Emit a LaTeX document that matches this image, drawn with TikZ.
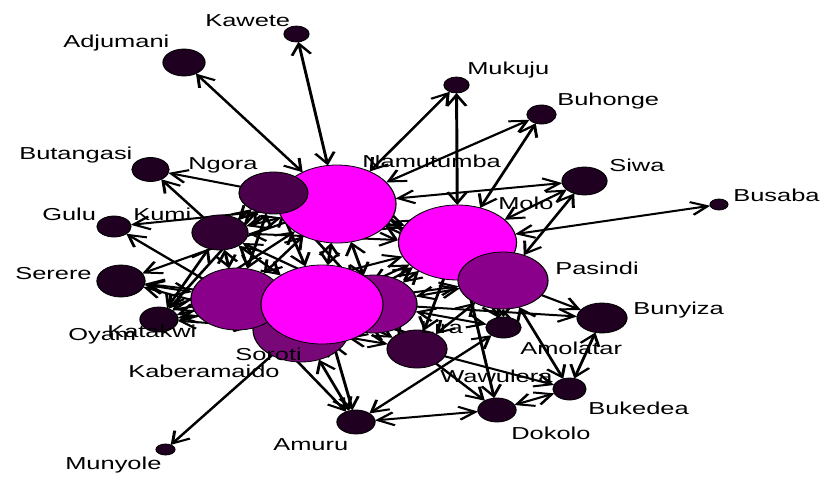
\documentclass[tikz,border=0pt]{standalone}
\usepackage{fontspec}
\setmainfont{Liberation Sans}
\usetikzlibrary{arrows.meta,shapes.geometric}
\definecolor{hub}{HTML}{FF00FF}
\definecolor{mid}{HTML}{8A008A}
\definecolor{sor}{HTML}{780878}
\definecolor{ngo}{HTML}{4A004A}
\definecolor{kum}{HTML}{330033}
\definecolor{lir}{HTML}{3C003C}
\definecolor{low}{HTML}{200020}

% all vertices; #1 lets the first pass place them invisibly so edges can refer to them
\newcommand\vertexset[1]{%
 \node[vtx,fill=hub,minimum width=80.3pt,minimum height=78pt,#1] (namutumba) at (337,204) {};
 \node[vtx,fill=ngo,minimum width=46.9pt,minimum height=42pt,#1] (ngora) at (273.5,193) {};
 \node[vtx,fill=hub,minimum width=80.3pt,minimum height=75pt,#1] (molo) at (457.5,242.5) {};
 \node[vtx,fill=mid,minimum width=61.2pt,minimum height=57pt,#1] (pasindi) at (503,280.5) {};
 \node[vtx,fill=sor,minimum width=65.3pt,minimum height=65pt,#1] (soroti) at (301,329.5) {};
 \node[vtx,fill=mid,minimum width=62.6pt,minimum height=62pt,#1] (oyam) at (237,299) {};
 \node[vtx,fill=mid,minimum width=58.5pt,minimum height=58pt,#1] (wawulera) at (374,304) {};
 \node[vtx,fill=hub,minimum width=83pt,minimum height=79pt,#1] (kaberamaido) at (322,304.5) {};
 \node[vtx,fill=kum,minimum width=38.1pt,minimum height=35pt,#1] (kumi) at (220,232.5) {};
 \node[vtx,fill=lir,minimum width=40.8pt,minimum height=38pt,#1] (lira) at (417,349) {};
 \node[vtx,fill=low,minimum width=17pt,minimum height=16pt,#1] (kawete) at (296.5,34) {};
 \node[vtx,fill=low,minimum width=28.6pt,minimum height=27pt,#1] (adjumani) at (184,62.5) {};
 \node[vtx,fill=low,minimum width=17pt,minimum height=16pt,#1] (mukuju) at (456.5,85) {};
 \node[vtx,fill=low,minimum width=19.7pt,minimum height=19pt,#1] (buhonge) at (541.5,114.5) {};
 \node[vtx,fill=low,minimum width=30.6pt,minimum height=28pt,#1] (siwa) at (584.5,181) {};
 \node[vtx,fill=low,minimum width=12.2pt,minimum height=11pt,#1] (busaba) at (719,204.5) {};
 \node[vtx,fill=low,minimum width=25.2pt,minimum height=24pt,#1] (butangasi) at (150.5,169.5) {};
 \node[vtx,fill=low,minimum width=23.1pt,minimum height=21pt,#1] (gulu) at (114,226.5) {};
 \node[vtx,fill=low,minimum width=32.7pt,minimum height=32pt,#1] (serere) at (121,281) {};
 \node[vtx,fill=low,minimum width=25.9pt,minimum height=25pt,#1] (katakwi) at (159,319.5) {};
 \node[vtx,fill=low,minimum width=23.8pt,minimum height=21pt,#1] (amolatar) at (503.5,327.5) {};
 \node[vtx,fill=low,minimum width=34pt,minimum height=30pt,#1] (bunyiza) at (602,318) {};
 \node[vtx,fill=low,minimum width=22.4pt,minimum height=22pt,#1] (bukedea) at (569.5,389) {};
 \node[vtx,fill=low,minimum width=25.9pt,minimum height=24pt,#1] (dokolo) at (497,410) {};
 \node[vtx,fill=low,minimum width=25.9pt,minimum height=24pt,#1] (amuru) at (356,422) {};
 \node[vtx,fill=low,minimum width=12.9pt,minimum height=11pt,#1] (munyole) at (165.5,449.5) {};
}

\begin{document}
\begin{tikzpicture}[
  vtx/.style={ellipse, draw=black, line width=0.8pt, inner sep=0pt, outer sep=0pt},
  lab/.style={anchor=base west, inner sep=0pt, font=\fontsize{17.3}{20}\selectfont},
  tie/.style={line width=2pt, draw=black},
  both/.style={tie, {Straight Barb[length=11pt,width=13pt]}-{Straight Barb[length=11pt,width=13pt]}},
  fwd/.style={tie, -{Straight Barb[length=11pt,width=13pt]}},
]
\useasboundingbox (0pt,0pt) rectangle (825pt,-477pt);
\fill[white] (0pt,0pt) rectangle (825pt,-477pt);
\begin{scope}[transform canvas={xscale=1.47}, x={(0.680272pt,0pt)}, y={(0pt,-1pt)}]
 % anchors for the edges
 \vertexset{draw=none,fill=none}

 % outer ties
 \draw[both] (namutumba) -- (adjumani);
 \draw[both] (namutumba) -- (kawete);
 \draw[both] (namutumba) -- (mukuju);
 \draw[both] (molo) -- (mukuju);
 \draw[both] (namutumba) -- (buhonge);
 \draw[both] (molo) -- (buhonge);
 \draw[both] (namutumba) -- (siwa);
 \draw[both] (molo) -- (siwa);
 \draw[both] (pasindi) -- (siwa);
 \draw[both] (molo) -- (busaba);
 \draw[fwd] (pasindi) -- (bunyiza);
 \draw[fwd] (wawulera) -- (bunyiza);
 \draw[both] (bunyiza) -- (bukedea);
 \draw[both] (pasindi) -- (bukedea);
 \draw[fwd] (lira) -- (bukedea);
 \draw[both] (bukedea) -- (dokolo);
 \draw[fwd] (lira) -- (dokolo);
 \draw[fwd] (molo) -- (dokolo);
 \draw[both] (amolatar) -- (amuru);
 \draw[both] (dokolo) -- (amuru);
 \draw[both] (soroti) -- (amuru);
 \draw[both] (kaberamaido) -- (amuru);
 \draw[fwd] (oyam) -- (amuru);
 \draw[fwd] (soroti) -- (munyole);
 \draw[fwd] (ngora) -- (butangasi);
 \draw[fwd] (kumi) -- (butangasi);
 \draw[fwd] (namutumba) -- (gulu);
 \draw[fwd] (oyam) -- (gulu);
 \draw[fwd] (namutumba) -- (serere);
 \draw[both] (oyam) -- (serere);
 \draw[both] (kaberamaido) -- (serere);
 \draw[both] (soroti) -- (serere);

 % core ties
 \draw[both] (katakwi) -- (oyam);
 \draw[both] (katakwi) -- (kaberamaido);
 \draw[both] (katakwi) -- (namutumba);
 \draw[both] (katakwi) -- (kumi);
 \draw[both] (katakwi) -- (soroti);
 \draw[both] (katakwi) -- (ngora);
 \draw[both] (kumi) -- (oyam);
 \draw[both] (kumi) -- (kaberamaido);
 \draw[both] (kumi) -- (namutumba);
 \draw[both] (kumi) -- (wawulera);
 \draw[both] (kumi) -- (molo);
 \draw[both] (kumi) -- (ngora);
 \draw[both] (ngora) -- (oyam);
 \draw[both] (ngora) -- (kaberamaido);
 \draw[both] (ngora) -- (wawulera);
 \draw[both] (ngora) -- (molo);
 \draw[both] (namutumba) -- (kaberamaido);
 \draw[both] (namutumba) -- (oyam);
 \draw[both] (namutumba) -- (wawulera);
 \draw[both] (namutumba) -- (molo);
 \draw[both] (namutumba) -- (pasindi);
 \draw[both] (molo) -- (kaberamaido);
 \draw[both] (molo) -- (oyam);
 \draw[both] (molo) -- (wawulera);
 \draw[both] (molo) -- (soroti);
 \draw[both] (pasindi) -- (kaberamaido);
 \draw[both] (pasindi) -- (wawulera);
 \draw[fwd] (molo) -- (lira);
 \draw[both] (kaberamaido) -- (lira);
 \draw[both] (wawulera) -- (lira);
 \draw[both] (soroti) -- (lira);
 \draw[both] (pasindi) -- (lira);
 \draw[both] (molo) -- (amolatar);
 \draw[both] (pasindi) -- (amolatar);
 \draw[both] (wawulera) -- (amolatar);

 % vertices, back to front
 \vertexset{}

 % names
 \node[lab] (t-kawete) at (205,26) {Kawete};
 \node[lab] (t-adjumani) at (63,47) {Adjumani};
 \node[lab] (t-mukuju) at (467,74) {Mukuju};
 \node[lab] (t-buhonge) at (557,105) {Buhonge};
 \node[lab] (t-butangasi) at (19,159) {Butangasi};
 \node[lab] (t-ngora) at (188,169) {Ngora};
 \node[lab] (t-namutumba) at (362,167) {Namutumba};
 \node[lab] (t-siwa) at (609,171.5) {Siwa};
 \node[lab] (t-busaba) at (733,201.5) {Busaba};
 \node[lab] (t-molo) at (498,209) {Molo};
 \node[lab] (t-gulu) at (42,220) {Gulu};
 \node[lab] (t-kumi) at (133,220) {Kumi};
 \node[lab] (t-pasindi) at (555,274) {Pasindi};
 \node[lab] (t-serere) at (15,279) {Serere};
 \node[lab] (t-bunyiza) at (633,314) {Bunyiza};
 \node[lab] (t-lira) at (420,333) {Lira};
 \node[lab] (t-oyam) at (68,340.5) {Oyam};
 \node[lab] (t-katakwi) at (107,337.5) {Katakwi};
 \node[lab] (t-amolatar) at (520,354) {Amolatar};
 \node[lab] (t-soroti) at (235,360.5) {Soroti};
 \node[lab] (t-kaberamaido) at (128,377.5) {Kaberamaido};
 \node[lab] (t-wawulera) at (440,382) {Wawulera};
 \node[lab] (t-bukedea) at (588,414) {Bukedea};
 \node[lab] (t-dokolo) at (511,439) {Dokolo};
 \node[lab] (t-amuru) at (273,450.5) {Amuru};
 \node[lab] (t-munyole) at (65,469.5) {Munyole};
\end{scope}
\end{tikzpicture}
\end{document}
